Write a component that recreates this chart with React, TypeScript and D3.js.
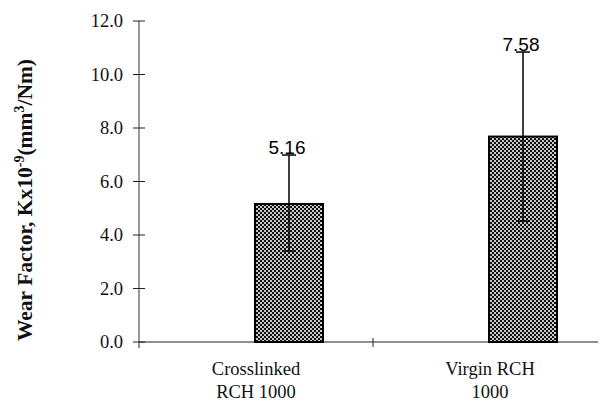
import React from "react";
import * as d3 from "d3";

const categories = ["Crosslinked RCH 1000", "Virgin RCH 1000"];
const categoryLines = [["Crosslinked", "RCH 1000"], ["Virgin RCH", "1000"]];
const values = [5.16, 7.68];
const valueLabels = ["5.16", "7.58"];
const errUpper = [1.83, 3.16];
const errLower = [1.76, 3.16];
const yTicks = [0, 2, 4, 6, 8, 10, 12];

const W = 603, H = 401;

export default function App() {
  const y = d3.scaleLinear().domain([0, 12]).range([342, 21]);
  const x = d3.scaleBand<string>().domain(categories).range([139, 607]).padding(0);
  const barW = 68;
  const barOffset = 33;
  const axisRight = 598;
  const serif = "'Liberation Serif', 'Times New Roman', serif";
  const sans = "'Liberation Sans', Arial, sans-serif";
  return (
    <svg width={W} height={H} style={{ position: "absolute", left: 0, top: 0, background: "#fff" }}>
      <defs>
        <pattern id="chk" width="4" height="4" patternUnits="userSpaceOnUse">
          <rect width="4" height="4" fill="#c8c8c8" />
          <rect x="0" y="0" width="2" height="2" fill="#111" />
          <rect x="2" y="2" width="2" height="2" fill="#111" />
        </pattern>
      </defs>
      {/* y axis */}
      <line x1={139} x2={139} y1={y(12)} y2={y(0)} stroke="#555" strokeWidth={1.2} />
      {yTicks.map((t) => (
        <g key={t}>
          <line x1={133} x2={145} y1={y(t)} y2={y(t)} stroke="#222" strokeWidth={1} />
          <text x={123} y={y(t)} dy="0.35em" textAnchor="end" fontFamily={serif} fontSize={18.5} fill="#111">
            {t.toFixed(1)}
          </text>
        </g>
      ))}
      {/* x axis */}
      <line x1={139} x2={axisRight} y1={y(0)} y2={y(0)} stroke="#222" strokeWidth={1.2} />
      <line x1={139} x2={139} y1={y(0)} y2={y(0) + 6} stroke="#222" strokeWidth={1} />
      {categories.slice(1).map((c) => (
        <line key={c} x1={x(c)!} x2={x(c)!} y1={y(0) - 4} y2={y(0) + 5} stroke="#222" strokeWidth={1} />
      ))}
      {/* bars */}
      {categories.map((c, i) => {
        const cx = x(c)! + x.bandwidth() / 2 + barOffset;
        const top = y(values[i] + errUpper[i]);
        const bot = y(values[i] - errLower[i]);
        return (
          <g key={c}>
            <rect x={cx - barW / 2} y={y(values[i])} width={barW} height={y(0) - y(values[i])}
              fill="url(#chk)" stroke="#000" strokeWidth={2} />
            <line x1={cx} x2={cx} y1={top} y2={bot} stroke="#000" strokeWidth={1.5} />
            <line x1={cx - 7} x2={cx + 7} y1={top} y2={top} stroke="#000" strokeWidth={1.5} />
            <line x1={cx - 7} x2={cx + 7} y1={bot} y2={bot} stroke="#000" strokeWidth={1.5} />
            <text x={cx - 2} y={top - 1} textAnchor="middle" fontFamily={sans} fontSize={19} fill="#000">
              {valueLabels[i]}
            </text>
          </g>
        );
      })}
      {/* category labels */}
      {categories.map((c, i) => (
        <text key={c} textAnchor="middle" fontFamily={serif} fontSize={18.5} fill="#111">
          {categoryLines[i].map((ln, j) => (
            <tspan key={j} x={x(c)! + x.bandwidth() / 2} y={375 + j * 23}>{ln}</tspan>
          ))}
        </text>
      ))}
      {/* y title */}
      <text transform="translate(32,200) rotate(-90)" textAnchor="middle" fontFamily={serif}
        fontWeight="bold" fontSize={21.5} fill="#111">
        Wear Factor, Kx10<tspan dy="-8" fontSize={14}>-9</tspan>
        <tspan dy="8">(mm</tspan><tspan dy="-8" fontSize={14}>3</tspan>
        <tspan dy="8">/Nm)</tspan>
      </text>
    </svg>
  );
}
